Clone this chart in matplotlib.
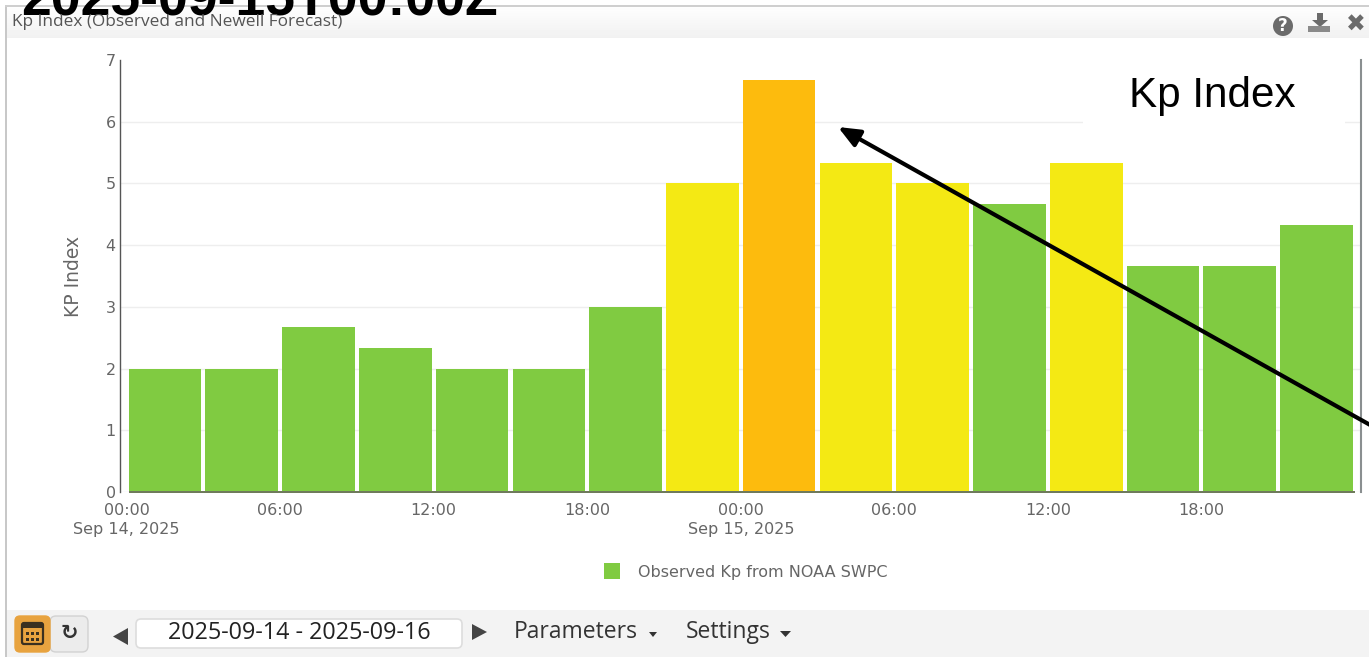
import matplotlib
matplotlib.use('Agg')
import matplotlib.pyplot as plt
from matplotlib.patches import Rectangle, FancyBboxPatch, Polygon, Circle
import numpy as np

hours = [1.5, 4.5, 7.5, 10.5, 13.5, 16.5, 19.5, 22.5, 25.5, 28.5, 31.5, 34.5, 37.5, 40.5, 43.5, 46.5]
kp_values = [2, 2, 2.67, 2.33, 2, 2, 3, 5, 6.67, 5.33, 5, 4.67, 5.33, 3.67, 3.67, 4.33]
tick_hours = [0, 6, 12, 18, 24, 30, 36, 42]
tick_labels = ['00:00\nSep 14, 2025', '06:00', '12:00', '18:00', '00:00\nSep 15, 2025', '06:00', '12:00', '18:00']
y_ticks = [0, 1, 2, 3, 4, 5, 6, 7]

GREEN = '#80cb41'
YELLOW = '#f4e914'
ORANGE = '#fdbb0d'
TICK_COL = '#666666'
UI_FONT = ['Open Sans', 'DejaVu Sans']


def kp_colour(v):
    if v < 5:
        return GREEN
    if v < 6:
        return YELLOW
    return ORANGE


W, H = 1369, 657
fig = plt.figure(figsize=(W / 100, H / 100), dpi=100, facecolor='white')

# panel behind the chart, in pixel coordinates
bg = fig.add_axes([0, 0, 1, 1], zorder=0)
bg.set_xlim(0, W)
bg.set_ylim(H, 0)
bg.axis('off')
grad = np.linspace(0.995, 0.945, 32).reshape(-1, 1)
bg.imshow(grad, extent=[7, W, 38, 6], cmap='gray', vmin=0, vmax=1, aspect='auto')
bg.set_xlim(0, W)
bg.set_ylim(H, 0)
bg.add_patch(Rectangle((5, 5), 2, 652, color='#c8c8c8', lw=0))
bg.add_patch(Rectangle((5, 5), W, 1.5, color='#cfcfcf', lw=0))
bg.add_patch(Rectangle((7, 610), W, 47, color='#f3f3f3', lw=0))

# chart
ax = fig.add_axes([120 / W, 1 - 492 / H, (1361 - 120) / W, (492 - 60) / H], zorder=1)
ax.patch.set_alpha(0)
colours = [kp_colour(v) for v in kp_values]
ax.bar(hours, kp_values, width=2.84, color=colours, zorder=2)
ax.set_xlim(-0.26, 48.24)
ax.set_ylim(0, 7)
ax.set_yticks(y_ticks)
ax.set_xticks(tick_hours)
ax.set_xticklabels(tick_labels, linespacing=1.35)
ax.tick_params(axis='x', length=0, pad=8, labelsize=11.5, labelcolor=TICK_COL)
ax.tick_params(axis='y', length=0, pad=3, labelsize=11.5, labelcolor=TICK_COL)
ax.grid(axis='y', color='#eeeeee', lw=1, zorder=0)
ax.get_ygridlines()[-1].set_visible(False)
for side in ['top', 'bottom']:
    ax.spines[side].set_visible(False)
ax.spines['left'].set_color('#555555')
ax.spines['left'].set_linewidth(1)
ax.spines['right'].set_color('#8a8f90')
ax.spines['right'].set_linewidth(1.5)
ax.set_ylabel('KP Index', fontsize=13.5, color=TICK_COL, labelpad=16)

# overlay: annotations, legend and toolbar
top = fig.add_axes([0, 0, 1, 1], zorder=2)
top.set_xlim(0, W)
top.set_ylim(H, 0)
top.axis('off')
top.patch.set_alpha(0)

top.add_patch(Rectangle((129, 491), 1226, 1.6, color='#6f7a5c', lw=0))

top.text(21, 15, '2025-09-15T00:00Z', fontsize=38.5, fontweight='bold', color='black',
         family='Liberation Sans', ha='left', va='baseline', clip_on=False)
top.text(12, 22.5, 'Kp Index (Observed and Newell Forecast)', fontsize=12.4, color='#555555',
         family=UI_FONT, ha='left', va='center')

# header icons
top.add_patch(Circle((1283, 26), 10, color='#6b6b6b', lw=0))
top.text(1283, 26, '?', fontsize=12, fontweight='bold', color='white', ha='center', va='center')
top.add_patch(Polygon([(1317, 13), (1323, 13), (1323, 20), (1328, 20), (1320, 27), (1312, 20), (1317, 20)],
                      color='#6b6b6b', lw=0))
top.add_patch(Rectangle((1308, 26), 22, 6, color='#8a8a8a', lw=0))
top.text(1356, 25, '\u2716', fontsize=17, color='#6b6b6b', ha='center', va='center',
         family='DejaVu Sans')

# white box covers the gridline behind the label
top.add_patch(Rectangle((1083, 60), 262, 66, color='white', lw=0))
top.text(1129, 96, 'Kp Index', fontsize=30.4, color='black', family='Liberation Sans',
         ha='left', va='center')

top.annotate('', xy=(838, 127), xytext=(1372, 426),
             arrowprops=dict(arrowstyle='-|>,head_length=1.3,head_width=0.55', color='black',
                             lw=3, shrinkA=0, shrinkB=0), annotation_clip=False)

# legend
top.add_patch(Rectangle((604, 563), 16, 16, color=GREEN, lw=0))
top.text(638, 572, 'Observed Kp from NOAA SWPC', fontsize=11.5, color=TICK_COL, ha='left', va='center')

# footer toolbar
top.add_patch(FancyBboxPatch((50, 616), 38, 36, boxstyle='round,pad=0,rounding_size=6',
                             fc='#ececec', ec='#d2d2d2', lw=1))
top.add_patch(FancyBboxPatch((15, 616), 35, 36, boxstyle='round,pad=0,rounding_size=5',
                             fc='#e8a33f', ec='#e8a33f', lw=1))
top.add_patch(FancyBboxPatch((22, 623), 21, 21, boxstyle='round,pad=0,rounding_size=2',
                             fc='#e8a33f', ec='#3a3020', lw=1.6))
top.add_patch(Rectangle((22, 623), 21, 5, color='#3a3020', lw=0))
for cal_x in [26, 31, 36]:
    for cal_y in [632, 638]:
        top.add_patch(Rectangle((cal_x, cal_y), 3, 3, color='#3a3020', lw=0))
top.text(69.5, 633, '\u21bb', fontsize=15, fontweight='bold', color='#333333', ha='center', va='center',
         family='DejaVu Sans')
top.add_patch(Polygon([(128, 628), (128, 645), (113, 636.5)], color='#444444', lw=0))
top.add_patch(FancyBboxPatch((136, 619), 326, 29, boxstyle='round,pad=0,rounding_size=5',
                             fc='white', ec='#dddddd', lw=1.2))
top.text(299, 633, '2025-09-14 - 2025-09-16', fontsize=16.8, color='#222222', family=UI_FONT,
         ha='center', va='center')
top.add_patch(Polygon([(472, 624), (472, 640), (487, 632)], color='#444444', lw=0))
top.text(514, 632, 'Parameters', fontsize=16.5, color='#333333', family=UI_FONT, ha='left', va='center')
top.add_patch(Polygon([(649, 632), (657, 632), (653, 637)], color='#333333', lw=0))
top.text(686, 632, 'Settings', fontsize=16.5, color='#333333', family=UI_FONT, ha='left', va='center')
top.add_patch(Polygon([(780, 631), (791, 631), (785.5, 637)], color='#333333', lw=0))

fig.savefig('out.png', dpi=100)
